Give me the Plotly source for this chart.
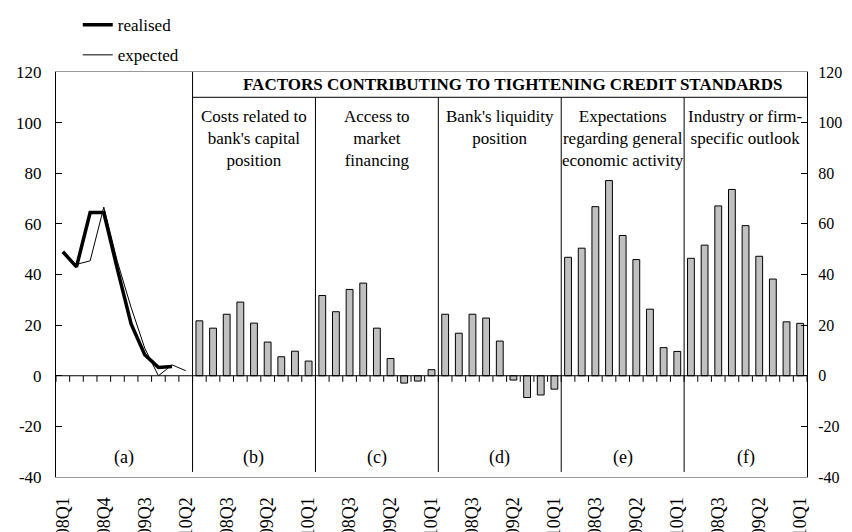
import plotly.graph_objects as go

# panel (a): realised vs expected tightening
quarters_a = ["2008Q1", "2008Q2", "2008Q3", "2008Q4", "2009Q1",
              "2009Q2", "2009Q3", "2009Q4", "2010Q1", "2010Q2"]
realised = [49, 43, 64.5, 64.5, 42, 20.5, 8.3, 3.3, 3.7, None]
expected = [None, 44, 45.4, 66.6, 45, 27, 10.9, 0, 4.3, 2]

# panels (b)-(f): factors
quarters_bf = quarters_a[:9]
costs_capital = [21.7, 18.8, 24.3, 29.1, 20.8, 13.3, 7.5, 9.7, 5.8]
market_access = [31.7, 25.3, 34.1, 36.6, 18.8, 6.8, -2.9, -2.1, 2.4]
liquidity = [24.3, 16.8, 24.3, 22.8, 13.7, -1.7, -8.6, -7.6, -5.3]
econ_activity = [46.8, 50.4, 66.8, 77.1, 55.4, 45.9, 26.3, 11.1, 9.6]
firm_outlook = [46.4, 51.6, 67.1, 73.6, 59.3, 47.2, 38.2, 21.3, 20.7]

factor_titles = [
    "Costs related to<br>bank's capital<br>position",
    "Access to<br>market<br>financing",
    "Bank's liquidity<br>position",
    "Expectations<br>regarding general<br>economic activity",
    "Industry or firm-<br>specific outlook",
]
panel_letters = ["(a)", "(b)", "(c)", "(d)", "(e)", "(f)"]
header = "FACTORS CONTRIBUTING TO TIGHTENING CREDIT STANDARDS"
y_ticks = [-40, -20, 0, 20, 40, 60, 80, 100, 120]

FONT = "Liberation Serif"

factors = [costs_capital, market_access, liquidity, econ_activity, firm_outlook]
labels = list(quarters_a)
for f in factors:
    labels += quarters_bf
n = len(labels)
x_a = list(range(len(quarters_a)))
x_bars = list(range(len(quarters_a), n))
y_bars = [v for f in factors for v in f]

fig = go.Figure()
fig.add_trace(go.Bar(
    x=x_bars, y=y_bars, width=0.5,
    marker=dict(color="#C0C0C0", line=dict(color="black", width=1)),
    showlegend=False, hoverinfo="y",
))
fig.add_trace(go.Scatter(
    x=x_a, y=realised, mode="lines", name="realised",
    line=dict(color="black", width=3.5), legendgroup="r",
))
fig.add_trace(go.Scatter(
    x=x_a, y=expected, mode="lines", name="expected",
    line=dict(color="black", width=1), legendgroup="e",
))
# dummy trace so the right axis is drawn
fig.add_trace(go.Scatter(x=[None], y=[None], yaxis="y2", showlegend=False,
                         hoverinfo="skip"))

# panel boundaries
bounds = [len(quarters_a) - 0.5 + 9 * k for k in range(len(factors))]
shapes = []
shapes.append(dict(type="line", x0=-0.5, x1=n - 0.5, y0=0, y1=0,
                   line=dict(color="black", width=1)))
for k in range(n + 1):
    shapes.append(dict(type="line", x0=k - 0.5, x1=k - 0.5, y0=0, y1=-2.4,
                       line=dict(color="black", width=1)))
for i, b in enumerate(bounds):
    shapes.append(dict(type="line", x0=b, x1=b, y0=120 if i == 0 else 110,
                       y1=-38, line=dict(color="black", width=1)))
shapes.append(dict(type="line", x0=bounds[0], x1=n - 0.5, y0=110, y1=110,
                   line=dict(color="black", width=1)))

annotations = []
annotations.append(dict(x=33, y=115, text="<b>" + header + "</b>",
                        showarrow=False, font=dict(family=FONT, size=17)))
edges = [-0.5] + bounds + [n - 0.5]
for i, letter in enumerate(panel_letters):
    annotations.append(dict(x=(edges[i] + edges[i + 1]) / 2, y=-32.4,
                            text=letter, showarrow=False,
                            font=dict(family=FONT, size=18)))
for i, t in enumerate(factor_titles):
    annotations.append(dict(x=(edges[i + 1] + edges[i + 2]) / 2, y=107,
                            yanchor="top", text=t, showarrow=False,
                            font=dict(family=FONT, size=17)))

yax = dict(range=[-40, 120], tickvals=y_ticks,
           ticktext=[str(v) for v in y_ticks],
           ticks="inside", ticklen=6,
           tickcolor="black", showline=True, linecolor="black",
           showgrid=False, zeroline=False, ticklabelstandoff=10,
           automargin=False,
           tickfont=dict(family=FONT, size=17, color="black"))

# the page body adds an 8px offset, so margins are shifted to compensate
fig.update_layout(
    width=852, height=532,
    margin=dict(l=48, r=53, t=64, b=63, autoexpand=False),
    plot_bgcolor="white", paper_bgcolor="white",
    font=dict(family=FONT, color="black"),
    xaxis=dict(range=[-0.5, n - 0.5], tickvals=list(range(0, n, 3)),
               ticktext=labels[::3], tickangle=-90, ticks="",
               showline=True, linecolor="#999999", mirror=True,
               showgrid=False, zeroline=False, automargin=False,
               ticklabelstandoff=12,
               tickfont=dict(family=FONT, size=18, color="black")),
    yaxis=yax,
    yaxis2=dict(yax, overlaying="y", side="right", ticklabelstandoff=7,
                tickfont=dict(family=FONT, size=16, color="black")),
    legend=dict(x=0.029, y=1.16, xanchor="left", yanchor="top",
                font=dict(family=FONT, size=17), tracegroupgap=5,
                itemwidth=30, bgcolor="rgba(0,0,0,0)"),
    shapes=shapes, annotations=annotations,
)

fig.write_html("out.html")
